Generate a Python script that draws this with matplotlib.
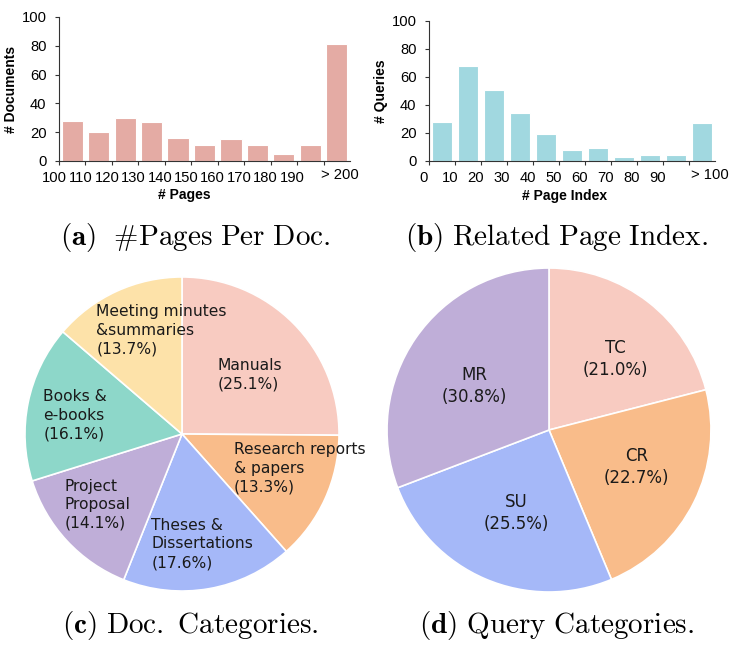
import matplotlib
matplotlib.use("Agg")
import matplotlib.pyplot as plt
import matplotlib.transforms as mtransforms
import numpy as np

# ---------------- data ----------------
pages_labels = ["100", "110", "120", "130", "140", "150", "160", "170", "180", "190"]
pages_last_label = "> 200"
pages_counts = [28, 20, 30, 27, 16, 11, 15, 11, 5, 11, 81]

index_labels = ["0", "10", "20", "30", "40", "50", "60", "70", "80", "90"]
index_last_label = "> 100"
index_counts = [28, 68, 51, 34, 19, 8, 9, 3, 4, 4, 27]

doc_categories = ["Manuals", "Research reports\n& papers", "Theses &\nDissertations",
                  "Project\nProposal", "Books &\ne-books", "Meeting minutes\n&summaries"]
doc_shares = [25.1, 13.3, 17.6, 14.1, 16.1, 13.7]

query_categories = ["TC", "CR", "SU", "MR"]
query_shares = [21.0, 22.7, 25.5, 30.8]

# ---------------- style ----------------
plt.rcParams["mathtext.fontset"] = "cm"
BAR_A = "#E4ABA4"
BAR_B = "#A1D8E0"
doc_colors = ["#F8CBC1", "#F9BC8A", "#A5B8F8", "#BFAED8", "#8DD7C9", "#FDE2A9"]
query_colors = ["#F8CBC1", "#F9BC8A", "#A5B8F8", "#BFAED8"]
TICK_FONT = "Liberation Sans"
PIE_FONT = "DejaVu Sans"

W, H = 736, 647
fig = plt.figure(figsize=(W / 100, H / 100), dpi=100)


def px_axes(left, top, right, bottom):
    return fig.add_axes([left / W, 1 - bottom / H, (right - left) / W, (bottom - top) / H])


def bar_panel(ax, counts, labels, last_label, last_pos, color, xlabel, ylabel, xlab_x, xlab_y, ylab_x):
    n = len(counts)
    x = np.arange(n) + 0.5
    ax.bar(x, counts, width=0.8, color=color, edgecolor="white", linewidth=0.8)
    ax.set_xlim(0, n)
    ax.set_ylim(0, 100)
    for s in ["top", "right"]:
        ax.spines[s].set_visible(False)
    for s in ["left", "bottom"]:
        ax.spines[s].set_color("#333333")
        ax.spines[s].set_linewidth(0.8)
    ax.set_yticks([0, 20, 40, 60, 80, 100])
    ax.set_xticks(np.arange(n), labels + [""])
    ax.set_xticks([last_pos], [last_label], minor=True)
    ax.tick_params(axis="x", which="minor", length=0, pad=4.8)
    ax.tick_params(axis="both", which="major", length=3, width=0.8, color="#333333")
    ax.tick_params(axis="y", pad=6)
    ax.tick_params(axis="x", which="major", pad=4.5)
    for lab in ax.get_xticklabels() + ax.get_xticklabels(minor=True) + ax.get_yticklabels():
        lab.set_fontfamily(TICK_FONT)
        lab.set_fontsize(10.6)
    off = mtransforms.ScaledTranslation(-5 / 100, 0, fig.dpi_scale_trans)
    for lab in ax.get_xticklabels():
        lab.set_transform(lab.get_transform() + off)
    ax.set_xlabel(xlabel, fontfamily=TICK_FONT, fontweight="bold", fontsize=10)
    ax.set_ylabel(ylabel, fontfamily=TICK_FONT, fontweight="bold", fontsize=10)
    ax.xaxis.set_label_coords(xlab_x, xlab_y)
    ax.yaxis.set_label_coords(ylab_x, 0.5)


ax_a = px_axes(59, 17, 350, 161)
bar_panel(ax_a, pages_counts, pages_labels, pages_last_label, 10.6, BAR_A,
          "# Pages", "# Documents", 0.43, -0.19, -0.142)

ax_b = px_axes(429, 21, 715, 161)
bar_panel(ax_b, index_counts, index_labels, index_last_label, 10.8, BAR_B,
          "# Page Index", "# Queries", 0.475, -0.2, -0.145)


def pie_panel(ax, shares, labels, colors, label_pos, multialign, fsize):
    wedges, _ = ax.pie(shares, colors=colors, startangle=90, counterclock=False,
                       wedgeprops=dict(edgecolor="white", linewidth=1.2), radius=1.0)
    ax.set_xlim(-1.01, 1.01)
    ax.set_ylim(-1.01, 1.01)
    ax.set_aspect("equal", adjustable="box")
    ax.axis("off")
    for lab, val, (px, py) in zip(labels, shares, label_pos):
        ax.text(px, py, f"{lab}\n({val:.1f}%)", ha="center", va="center",
                multialignment=multialign, fontsize=fsize, fontfamily=PIE_FONT,
                color="#1a1a1a", linespacing=1.3)


ax_c = px_axes(182 - 158.6, 434 - 158.6, 182 + 158.6, 434 + 158.6)
doc_label_pos = [(0.43, 0.38), (0.75, -0.22), (0.13, -0.70),
                 (-0.54, -0.45), (-0.68, 0.12), (-0.13, 0.66)]
pie_panel(ax_c, doc_shares, doc_categories, doc_colors, doc_label_pos, "left", 11.2)

ax_d = px_axes(549 - 163.6, 430 - 163.6, 549 + 163.6, 430 + 163.6)
query_label_pos = [(0.41, 0.44), (0.54, -0.23), (-0.20, -0.51), (-0.46, 0.27)]
pie_panel(ax_d, query_shares, query_categories, query_colors, query_label_pos, "center", 12)

# ---------------- captions ----------------
cap_kw = dict(ha="center", va="center", fontsize=21)
fig.text(195 / W, 1 - 237 / H, r"$\mathbf{(a)}\ \ \#\mathrm{Pages\ Per\ Doc.}$", **cap_kw)
fig.text(556 / W, 1 - 237 / H, r"$\mathbf{(b)}\ \mathrm{Related\ Page\ Index.}$", **cap_kw)
fig.text(190 / W, 1 - 626 / H, r"$\mathbf{(c)}\ \mathrm{Doc.\ Categories.}$", **cap_kw)
fig.text(557 / W, 1 - 626 / H, r"$\mathbf{(d)}\ \mathrm{Query\ Categories.}$", **cap_kw)

fig.savefig("out.png", dpi=100)
